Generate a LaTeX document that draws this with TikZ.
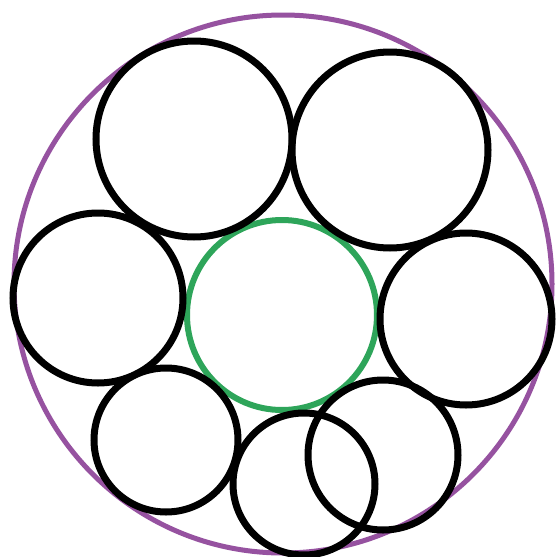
\documentclass[tikz,border=0pt]{standalone}
\definecolor{outerpurple}{RGB}{150,82,160}
\definecolor{innergreen}{RGB}{46,165,90}
\begin{document}
\begin{tikzpicture}[x=1pt,y=-1pt,
  blackring/.style={draw=black,line width=7pt},
  purplering/.style={draw=outerpurple,line width=5pt},
  greenring/.style={draw=innergreen,line width=6pt}]
\useasboundingbox[fill=white] (0,0) rectangle (557,557);
\draw[purplering] (283,284) circle[radius=269];
\draw[greenring] (282,315) circle[radius=95];
\draw[blackring] (194,139) circle[radius=98];
\draw[blackring] (390,150) circle[radius=98];
\draw[blackring] (98,298) circle[radius=85];
\draw[blackring] (466,319) circle[radius=86];
\draw[blackring] (166,440) circle[radius=72];
\draw[blackring] (304,484) circle[radius=71];
\draw[blackring] (383,455) circle[radius=75];
\end{tikzpicture}
\end{document}
